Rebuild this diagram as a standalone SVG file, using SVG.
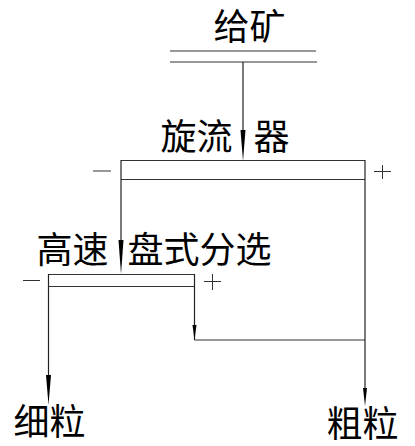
<svg xmlns="http://www.w3.org/2000/svg" width="415" height="446" viewBox="0 0 415 446">
<style>
.t{font-family:"Noto Sans CJK SC","Noto Sans",sans-serif;font-size:36px;fill:#000}
.l{stroke:#222;stroke-width:1.2;fill:none}
.s{stroke:#333;stroke-width:1;fill:none}
.a{fill:#000;stroke:none}
</style>
<rect width="415" height="446" fill="#fff"/>
<g id="feed">
<text class="t" x="213.5" y="39.5">给矿</text>
<line class="s" x1="170" y1="51" x2="316" y2="51"/>
<line class="s" x1="170" y1="62" x2="317" y2="62"/>
</g>
<g id="cyclone">
<text class="t" y="149.5"><tspan x="160.5">旋流</tspan><tspan x="253.5">器</tspan></text>
<line class="s" x1="121" y1="160.5" x2="365" y2="160.5"/>
<line class="s" x1="121" y1="179.5" x2="365" y2="179.5"/>
<line class="s" x1="93" y1="171" x2="111" y2="171"/>
<line class="s" x1="374" y1="171.5" x2="391" y2="171.5"/>
<line class="s" x1="382.5" y1="165" x2="382.5" y2="179"/>
</g>
<g id="separator">
<text class="t" y="262.5"><tspan x="36.5">高速</tspan><tspan x="127.5">盘式分选</tspan></text>
<line class="s" x1="48.5" y1="274.5" x2="194.5" y2="274.5"/>
<line class="s" x1="48.5" y1="286.5" x2="194.5" y2="286.5"/>
<line class="s" x1="23" y1="280.5" x2="40" y2="280.5"/>
<line class="s" x1="204" y1="281.5" x2="221" y2="281.5"/>
<line class="s" x1="212.5" y1="274" x2="212.5" y2="290"/>
</g>
<g id="fine"><text class="t" x="13.5" y="435">细粒</text></g>
<g id="coarse"><text class="t" x="326.5" y="437">粗粒</text></g>
<g id="connectors">
<line class="l" x1="243" y1="62" x2="243" y2="140"/>
<polygon class="a" points="240.5,130 245.5,130 243,161"/>
<line class="l" x1="121" y1="160" x2="121" y2="250"/>
<polygon class="a" points="118.5,240 123.5,240 121,274"/>
<line class="l" x1="48.5" y1="274" x2="48.5" y2="385"/>
<polygon class="a" points="46,375 51,375 48.5,405"/>
<line class="l" x1="194.5" y1="274" x2="194.5" y2="340"/>
<polygon class="a" points="192.5,325 196.5,325 194.5,340"/>
<line class="s" x1="194.5" y1="340" x2="365" y2="340"/>
<line class="l" x1="365" y1="160" x2="365" y2="395"/>
<polygon class="a" points="363,388 367,388 365,406"/>
</g>
</svg>
